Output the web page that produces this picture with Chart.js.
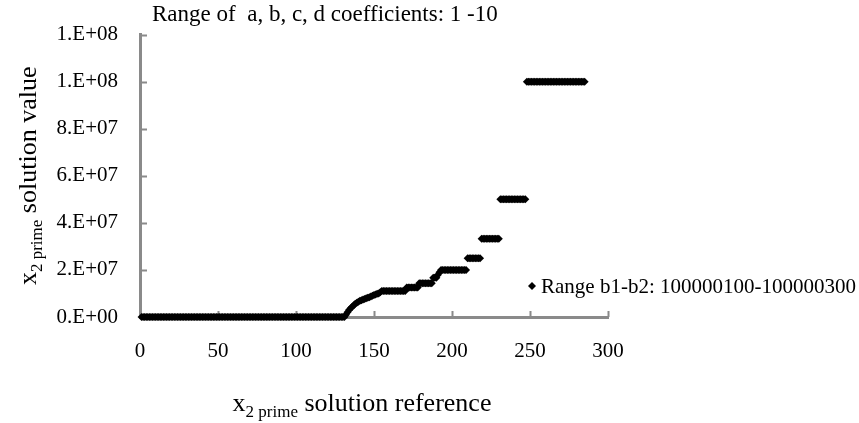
<!DOCTYPE html>
<html>
<head>
<meta charset="utf-8">
<script src="https://cdn.jsdelivr.net/npm/chart.js@4.4.1/dist/chart.umd.min.js"></script>
<style>
  html, body { margin: 0; padding: 0; background: #fff; }
  #wrap { width: 859px; height: 423px; position: relative; }
</style>
</head>
<body>
<div id="wrap"><canvas id="solChart"></canvas></div>
<script>
// x2 prime solution values, sorted, one per solution reference (1..285)
var solutionValues = [
  0,0,0,0,0,0,0,0,0,0,0,0,0,0,0,0,0,0,0,0,
  0,0,0,0,0,0,0,0,0,0,0,0,0,0,0,0,0,0,0,0,
  0,0,0,0,0,0,0,0,0,0,0,0,0,0,0,0,0,0,0,0,
  0,0,0,0,0,0,0,0,0,0,0,0,0,0,0,0,0,0,0,0,
  0,0,0,0,0,0,0,0,0,0,0,0,0,0,0,0,0,0,0,0,
  0,0,0,0,0,0,0,0,0,0,0,0,0,0,0,0,0,0,0,0,
  0,0,0,0,0,0,0,0,0,0,0,
  1.0e6, 2.0e6, 3.0e6, 3.7e6, 4.4e6, 5.0e6, 5.6e6, 6.1e6, 6.5e6, 6.9e6,
  7.1e6, 7.4e6, 7.7e6, 8.0e6, 8.2e6, 8.4e6, 8.7e6, 9.0e6, 9.4e6, 9.6e6,
  9.9e6, 1.0e7, 1.05e7,
  1.11e7,1.11e7,1.11e7,1.11e7,1.11e7,1.11e7,1.11e7,1.11e7,
  1.11e7,1.11e7,1.11e7,1.11e7,1.11e7,1.11e7,1.11e7,1.11e7,
  1.25e7,1.25e7,1.25e7,1.25e7,1.25e7,1.25e7,1.25e7,1.25e7,
  1.43e7,1.43e7,1.43e7,1.43e7,1.43e7,1.43e7,1.43e7,1.43e7,1.43e7,
  1.67e7,1.67e7,1.67e7,
  1.8e7, 1.9e7,
  2e7,2e7,2e7,2e7,2e7,2e7,2e7,2e7,2e7,2e7,2e7,2e7,2e7,2e7,2e7,2e7,2e7,
  2.5e7,2.5e7,2.5e7,2.5e7,2.5e7,2.5e7,2.5e7,2.5e7,2.5e7,
  3.33e7,3.33e7,3.33e7,3.33e7,3.33e7,3.33e7,3.33e7,3.33e7,3.33e7,3.33e7,3.33e7,3.33e7,
  5e7,5e7,5e7,5e7,5e7,5e7,5e7,5e7,5e7,5e7,5e7,5e7,5e7,5e7,5e7,5e7,5e7,
  1e8,1e8,1e8,1e8,1e8,1e8,1e8,1e8,1e8,1e8,1e8,1e8,1e8,1e8,1e8,1e8,1e8,1e8,1e8,
  1e8,1e8,1e8,1e8,1e8,1e8,1e8,1e8,1e8,1e8,1e8,1e8,1e8,1e8,1e8,1e8,1e8,1e8,1e8
];
var seriesLabel = "Range b1-b2: 100000100-100000300";
var chartTitle = "Range of  a, b, c, d coefficients: 1 -10";
var xTicks = [0, 50, 100, 150, 200, 250, 300];
var yTicks = [0, 2e7, 4e7, 6e7, 8e7, 1e8, 1.2e8];

var serif = "'Liberation Serif', 'Times New Roman', serif";
var axisColor = "#8a8a8a";

var points = [];
for (var i = 0; i < solutionValues.length; i++) {
  points.push({ x: i + 1, y: solutionValues[i] });
}

// excel style 0.E+00 labels
function sciLabel(v) {
  if (v == 0) return "0.E+00";
  var e = Math.floor(Math.log10(v));
  var m = Math.round(v / Math.pow(10, e));
  if (m == 10) { m = 1; e++; }
  return m + ".E+" + (e < 10 ? "0" + e : e);
}

// draws a run of text pieces (for the subscripts), centred on cx
function drawParts(ctx, parts, cx, y) {
  var w = 0;
  parts.forEach(function(p) {
    ctx.font = p.size + "px " + serif;
    p.w = ctx.measureText(p.t).width;
    w += p.w;
  });
  var x = cx - w / 2;
  parts.forEach(function(p) {
    ctx.font = p.size + "px " + serif;
    ctx.fillText(p.t, x, y + (p.dy || 0));
    x += p.w;
  });
}

var extras = {
  id: "extras",
  beforeDatasetsDraw: function(chart) {
    var ctx = chart.ctx, a = chart.chartArea;
    var xs = chart.scales.x, ys = chart.scales.y;
    ctx.save();
    ctx.strokeStyle = axisColor;
    ctx.lineWidth = 2;
    ctx.beginPath();
    ys.ticks.forEach(function(t, i) {
      var y = Math.round(ys.getPixelForTick(i)) + 0.5;
      ctx.moveTo(a.left, y); ctx.lineTo(a.left + 7, y);
    });
    xs.ticks.forEach(function(t, i) {
      var x = Math.round(xs.getPixelForTick(i)) + 0.5;
      ctx.moveTo(x, a.bottom); ctx.lineTo(x, a.bottom - 6);
    });
    ctx.stroke();
    ctx.restore();
  },
  afterDraw: function(chart) {
    var ctx = chart.ctx, a = chart.chartArea;
    ctx.save();
    ctx.fillStyle = "#000";
    ctx.textBaseline = "alphabetic";

    // title, top left
    ctx.font = "23px " + serif;
    ctx.textAlign = "left";
    ctx.fillText(chartTitle, a.left + 12, 21);

    // x axis title
    drawParts(ctx, [
      { t: "x", size: 26 },
      { t: "2 prime", size: 17, dy: 6 },
      { t: " solution reference", size: 26 }
    ], (a.left + a.right) / 2 - 12, 411);

    // y axis title
    ctx.save();
    ctx.translate(36, (a.top + a.bottom) / 2);
    ctx.rotate(-Math.PI / 2);
    drawParts(ctx, [
      { t: "x", size: 26 },
      { t: "2 prime", size: 17, dy: 6 },
      { t: " solution value", size: 26 }
    ], 0, 0);
    ctx.restore();

    // legend
    var lx = 532, ly = 286;
    ctx.beginPath();
    ctx.moveTo(lx, ly - 4); ctx.lineTo(lx + 4, ly);
    ctx.lineTo(lx, ly + 4); ctx.lineTo(lx - 4, ly);
    ctx.closePath();
    ctx.fill();
    ctx.font = "21px " + serif;
    ctx.textAlign = "left";
    ctx.fillText(seriesLabel, lx + 9, 293);
    ctx.restore();
  }
};

var ctx = document.getElementById("solChart");
var chart = new Chart(ctx, {
  type: "scatter",
  data: {
    datasets: [{
      label: seriesLabel,
      data: points,
      pointStyle: "rectRot",
      pointRadius: 4,
      pointHoverRadius: 4,
      backgroundColor: "#000",
      borderColor: "#000",
      borderWidth: 0,
      clip: false
    }]
  },
  options: {
    responsive: true,
    maintainAspectRatio: false,
    animation: false,
    layout: { padding: { top: 21, right: 251, left: 0, bottom: 0 } },
    plugins: {
      legend: { display: false },
      tooltip: { enabled: false }
    },
    scales: {
      x: {
        type: "linear",
        min: xTicks[0],
        max: xTicks[xTicks.length - 1],
        afterBuildTicks: function(s) { s.ticks = xTicks.map(function(v) { return { value: v }; }); },
        afterFit: function(s) { s.height = 106; },
        grid: { display: false, drawTicks: false },
        border: { display: true, color: axisColor, width: 3 },
        ticks: {
          padding: 22,
          color: "#000",
          font: { family: serif, size: 21 },
          maxRotation: 0
        }
      },
      y: {
        min: yTicks[0],
        max: yTicks[yTicks.length - 1],
        afterBuildTicks: function(s) { s.ticks = yTicks.map(function(v) { return { value: v }; }); },
        afterFit: function(s) { s.width = 140; },
        grid: { display: false, drawTicks: false },
        border: { display: true, color: axisColor, width: 3 },
        ticks: {
          padding: 22,
          color: "#000",
          font: { family: serif, size: 21 },
          callback: function(v) { return sciLabel(v); }
        }
      }
    }
  },
  plugins: [extras]
});
</script>
</body>
</html>
